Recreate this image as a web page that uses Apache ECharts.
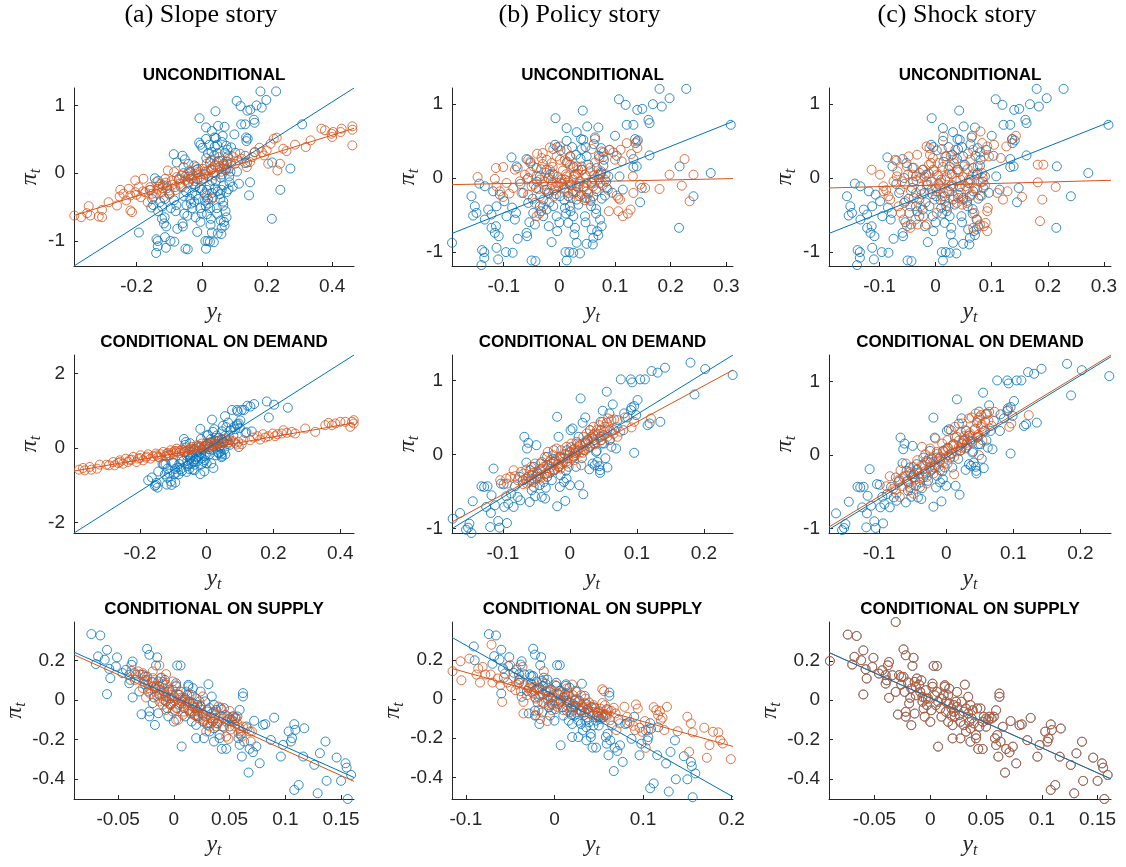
<!DOCTYPE html>
<html>
<head>
<meta charset="utf-8">
<title>Slope, policy and shock stories</title>
<script src="https://cdn.jsdelivr.net/npm/echarts@6/dist/echarts.min.js"></script>
<style>
  html, body { margin: 0; padding: 0; background: #fff; }
  #chart { width: 1126px; height: 867px; }
</style>
</head>
<body>
<div id="chart"></div>
<script>
// column and panel titles
const columnTitles = ['(a) Slope story', '(b) Policy story', '(c) Shock story'];
const rowTitles = ['UNCONDITIONAL', 'CONDITIONAL ON DEMAND', 'CONDITIONAL ON SUPPLY'];

// blue = data, the same in all three columns of a row
const blueUncond = [[0.228,1.205],[0.180,1.205],[0.198,1.079],[0.107,1.065],[0.119,0.989],[0.168,0.998],[0.184,0.966],[0.140,0.921],[0.149,0.935],[0.042,0.912],[0.160,0.787],[0.162,0.742],[-0.007,0.809],[0.121,0.719],[0.133,0.719],[0.308,0.719],[0.013,0.674],[0.070,0.683],[0.050,0.697],[0.100,0.571],[0.031,0.620],[0.039,0.526],[0.043,0.517],[0.064,0.548],[0.136,0.526],[0.137,0.472],[0.141,0.508],[0.013,0.503],[0.023,0.418],[0.047,0.418],[0.040,0.391],[0.062,0.458],[0.075,0.404],[0.079,0.346],[-0.004,0.418],[0.019,0.292],[0.030,0.315],[0.162,0.306],[0.133,0.256],[0.080,0.247],[0.049,0.292],[-0.086,0.279],[-0.059,0.256],[-0.077,0.157],[-0.052,0.202],[-0.041,0.135],[0.108,0.022],[0.133,0.148],[0.139,0.157],[0.216,0.157],[0.272,0.067],[0.241,-0.247],[0.145,-0.328],[0.215,-0.674],[0.114,-0.157],[0.148,-0.135],[0.085,-0.135],[0.082,-0.238],[0.067,-0.180],[0.075,0.067],[0.058,-0.067],[0.061,-0.247],[0.049,-0.270],[0.057,-0.382],[0.046,-0.517],[0.066,-0.481],[0.073,-0.562],[0.076,-0.652],[0.068,-0.719],[0.070,-0.773],[0.058,-0.697],[0.061,-0.809],[0.049,-0.890],[0.060,-0.899],[0.031,-0.876],[0.028,-0.674],[0.027,-0.764],[0.016,-0.607],[0.025,-0.517],[0.011,-1.002],[0.018,-1.002],[0.025,-1.011],[0.037,-1.020],[0.013,-1.115],[-0.014,-0.867],[-0.004,-0.719],[-0.019,-0.652],[-0.029,-0.517],[-0.011,-0.382],[-0.035,-0.382],[-0.054,-0.598],[-0.059,-0.742],[-0.058,-0.787],[-0.050,-1.115],[-0.043,-1.124],[-0.084,-1.011],[-0.075,-0.822],[-0.096,-1.002],[-0.110,-1.101],[-0.139,-0.975],[-0.135,-1.002],[-0.135,-1.079],[-0.140,-1.178],[-0.193,-0.876],[-0.113,-0.944],[-0.122,-0.674],[-0.116,-0.742],[-0.109,-0.787],[-0.114,-0.652],[-0.134,-0.562],[-0.155,-0.508],[-0.149,-0.472],[-0.152,-0.382],[-0.158,-0.247],[-0.144,-0.076],[-0.122,-0.494],[-0.128,-0.427],[-0.113,-0.382],[-0.095,-0.517],[-0.078,-0.472],[-0.080,-0.562],[-0.099,-0.315],[-0.119,-0.180],[-0.107,-0.225],[-0.134,-0.112],[-0.065,-0.202],[-0.056,-0.337],[-0.047,-0.472],[-0.044,-0.629],[-0.023,-0.427],[-0.042,-0.135],[-0.029,-0.292],[-0.020,-0.202],[0.001,-0.247],[0.010,-0.404],[0.019,-0.382],[0.012,-0.481],[-0.005,-0.517],[-0.017,0.045],[-0.023,0.112],[-0.008,0.449],[0.002,0.373],[0.010,-0.022],[0.031,-0.112],[0.040,0.112],[0.025,0.157],[0.067,0.135],[0.079,0.166],[0.073,0.045],[0.088,0.022],[0.040,-0.225],[0.031,-0.292],[0.016,-0.247],[-0.014,-0.090],[-0.035,0.022],[-0.056,0.000],
  [-0.048,-0.28],[-0.040,-0.05],[-0.033,-0.45],[-0.026,-0.16],[-0.018,-0.33],[-0.012,0.06],[-0.006,-0.22],[0.000,-0.60],[0.005,-0.08],[0.009,-0.30],[0.014,0.22],[0.020,-0.45],[0.024,-0.18],[0.029,0.05],[0.034,-0.36],[0.038,0.26],[0.043,-0.12],[0.047,-0.60],[0.052,0.18],[0.056,-0.31],[0.062,-0.02],[0.066,-0.42],[0.071,0.30],[0.076,-0.28],[0.084,-0.05],[0.090,0.38],[0.095,-0.20],[0.103,0.30],[-0.070,-0.08],[-0.085,-0.40]];

const blueDemand = [[-0.175,-0.869],[-0.164,-0.792],[-0.155,-1.018],[-0.150,-0.937],[-0.152,-0.991],[-0.147,-1.063],[-0.145,-0.633],[-0.132,-0.430],[-0.128,-0.439],[-0.123,-0.430],[-0.125,-0.710],[-0.118,-0.792],[-0.119,-0.982],[-0.114,-0.190],[-0.117,-0.552],[-0.112,-0.688],[-0.107,-0.900],[-0.105,-0.991],[-0.103,-0.394],[-0.099,-0.403],[-0.098,-0.710],[-0.094,-0.928],[-0.095,-0.566],[-0.092,-0.665],[-0.088,-0.529],[-0.084,-0.710],[-0.082,-0.430],[-0.078,-0.575],[-0.075,-0.303],[-0.074,-0.620],[-0.070,-0.348],[-0.068,0.240],[-0.065,-0.109],[-0.064,0.081],[-0.062,0.158],[-0.060,-0.643],[-0.057,-0.484],[-0.059,-0.213],[-0.054,-0.439],[-0.052,-0.566],[-0.050,0.127],[-0.048,-0.258],[-0.045,-0.416],[-0.042,-0.575],[-0.039,-0.371],[-0.037,-0.597],[-0.034,-0.303],[-0.029,-0.077],[-0.027,-0.348],[-0.023,-0.213],[-0.019,-0.701],[-0.019,0.511],[-0.017,0.240],[-0.015,-0.439],[-0.014,-0.281],[-0.009,-0.371],[-0.007,-0.629],[-0.005,-0.326],[-0.002,-0.167],[0.000,-0.416],[0.001,0.330],[0.004,0.353],[0.006,-0.032],[0.009,-0.167],[0.014,-0.416],[0.016,0.760],[0.019,0.430],[0.020,-0.538],[0.023,0.502],[0.026,0.195],[0.030,0.330],[0.034,-0.122],[0.037,-0.145],[0.041,-0.100],[0.044,-0.158],[0.045,-0.213],[0.045,-0.249],[0.049,0.593],[0.055,0.851],[0.059,0.557],[0.056,-0.176],[0.064,0.679],[0.066,0.330],[0.062,0.104],[0.051,0.149],[0.069,0.081],[0.076,1.018],[0.080,0.330],[0.086,0.502],[0.091,1.018],[0.093,0.977],[0.092,0.638],[0.096,0.656],[0.096,0.023],[0.101,0.738],[0.105,1.018],[0.112,1.018],[0.116,0.398],[0.119,0.421],[0.122,1.131],[0.131,1.109],[0.135,0.443],[0.142,1.176],[0.180,1.244],[0.186,0.814],[0.202,1.158],[0.243,1.077],[0.030,0.104],[0.036,0.195],[0.046,0.443],[0.071,0.466],[0.081,0.557],[0.091,0.602],[0.099,0.534],[0.011,0.149],[-0.004,0.059],[-0.014,-0.032],[-0.024,0.059],[-0.034,-0.032],[-0.044,-0.122],[-0.054,-0.167],[0.021,0.059],[0.039,0.036],[0.046,0.240],[0.056,0.330],
  [-0.058,-0.35],[-0.050,-0.30],[-0.043,-0.20],[-0.036,-0.45],[-0.030,-0.25],[-0.024,-0.10],[-0.017,-0.17],[-0.011,-0.05],[-0.006,-0.22],[0.002,0.10],[0.008,0.02],[0.013,0.24],[0.018,-0.05],[0.024,0.16],[0.029,-0.20],[0.035,0.27],[0.040,0.05],[0.048,0.15],[0.053,-0.05],[0.060,0.20]];

const blueSupply = [[-0.091,0.270],[-0.090,0.199],[-0.074,0.333],[-0.066,0.326],[-0.070,0.181],[-0.068,0.220],[-0.062,0.203],[-0.060,0.253],[-0.058,0.157],[-0.057,0.110],[-0.060,0.029],[-0.051,0.215],[-0.052,0.169],[-0.046,0.135],[-0.043,0.152],[-0.040,0.127],[-0.039,0.101],[-0.040,0.084],[-0.038,0.177],[-0.037,0.194],[-0.037,0.012],[-0.031,0.042],[-0.031,0.397],[-0.029,-0.073],[-0.034,0.127],[-0.028,0.127],[-0.026,0.118],[-0.024,0.118],[-0.024,0.258],[-0.022,0.228],[-0.023,0.042],[-0.022,-0.059],[-0.022,-0.084],[-0.019,-0.017],[-0.018,0.012],[-0.017,-0.127],[-0.016,0.174],[-0.015,0.215],[-0.014,0.093],[-0.014,-0.068],[-0.013,0.068],[-0.012,0.110],[-0.010,0.079],[-0.009,0.042],[-0.008,0.101],[-0.007,0.017],[-0.007,-0.008],[-0.006,-0.042],[-0.005,-0.084],[-0.004,0.051],[-0.003,-0.025],[-0.002,0.008],[0.000,-0.110],[0.001,-0.051],[0.002,0.084],[0.002,0.068],[0.003,0.174],[0.006,0.174],[0.004,0.025],[0.005,-0.025],[0.006,0.042],[0.007,-0.236],[0.007,-0.008],[0.009,-0.042],[0.010,0.008],[0.010,-0.084],[0.012,0.025],[0.013,0.076],[0.013,0.068],[0.014,-0.059],[0.016,-0.110],[0.016,0.025],[0.017,0.059],[0.017,-0.017],[0.019,-0.042],[0.019,-0.079],[0.020,-0.127],[0.020,-0.194],[0.021,-0.059],[0.022,-0.084],[0.023,-0.008],[0.024,0.042],[0.024,-0.034],[0.026,-0.076],[0.027,-0.110],[0.027,-0.194],[0.028,-0.008],[0.030,-0.059],[0.030,-0.127],[0.031,0.079],[0.032,-0.042],[0.032,-0.160],[0.034,-0.068],[0.034,0.017],[0.035,-0.110],[0.036,-0.211],[0.036,-0.144],[0.037,-0.093],[0.038,-0.051],[0.039,-0.118],[0.041,-0.177],[0.041,-0.194],[0.042,-0.042],[0.043,-0.248],[0.044,-0.135],[0.045,-0.042],[0.047,-0.248],[0.048,-0.084],[0.050,-0.093],[0.052,-0.101],[0.055,-0.093],[0.057,-0.084],[0.058,-0.194],[0.059,-0.228],[0.059,-0.051],[0.060,-0.177],[0.061,-0.287],[0.062,0.034],[0.062,0.017],[0.063,-0.211],[0.065,-0.135],[0.067,-0.368],[0.068,-0.248],[0.071,-0.265],[0.072,-0.106],[0.074,-0.236],[0.077,-0.321],[0.080,-0.127],[0.082,-0.123],[0.090,-0.090],[0.087,-0.203],[0.096,-0.287],[0.098,-0.228],[0.103,-0.160],[0.105,-0.211],[0.106,-0.194],[0.108,-0.123],[0.109,-0.152],[0.108,-0.456],[0.112,-0.431],[0.117,-0.144],[0.116,-0.287],[0.126,-0.329],[0.129,-0.473],[0.131,-0.270],[0.136,-0.211],[0.137,-0.410],[0.146,-0.292],[0.150,-0.410],[0.154,-0.321],[0.155,-0.343],[0.156,-0.502],[0.159,-0.380],[-0.026,0.079],[-0.020,0.090],[-0.017,0.059],[-0.013,0.025],[-0.004,0.008],[0.014,-0.008],[0.021,-0.025],[0.036,-0.025],[0.047,-0.110],[0.050,-0.135],[0.053,-0.084]];

// orange = model, one per story
const orangeUncondSlope = [[-0.391,-0.626],[-0.370,-0.650],[-0.352,-0.591],[-0.347,-0.488],[-0.342,-0.626],[-0.316,-0.640],[-0.306,-0.650],[-0.306,-0.542],[-0.286,-0.429],[-0.260,-0.478],[-0.252,-0.345],[-0.250,-0.246],[-0.240,-0.305],[-0.232,-0.404],[-0.224,-0.232],[-0.219,-0.330],[-0.219,-0.552],[-0.214,-0.576],[-0.204,-0.108],[-0.204,-0.281],[-0.194,-0.207],[-0.187,-0.355],[-0.179,-0.084],[-0.173,-0.281],[-0.166,-0.429],[-0.158,-0.207],[-0.153,-0.305],[-0.148,-0.355],[-0.140,-0.133],[-0.136,-0.232],[-0.128,-0.158],[-0.122,-0.281],[-0.117,-0.355],[-0.112,-0.084],[-0.107,-0.182],[-0.104,0.039],[-0.099,-0.256],[-0.092,-0.108],[-0.085,0.015],[-0.082,-0.207],[-0.077,-0.059],[-0.068,-0.158],[-0.061,-0.034],[-0.056,0.089],[-0.051,-0.108],[-0.044,-0.010],[-0.038,0.039],[-0.034,-0.084],[-0.026,-0.034],[-0.017,0.089],[-0.013,0.015],[-0.005,-0.059],[0.003,0.064],[0.007,-0.010],[0.015,0.138],[0.020,0.039],[0.028,0.187],[0.034,0.089],[0.041,-0.034],[0.046,0.163],[0.054,0.236],[0.056,0.099],[0.064,0.187],[0.068,0.064],[0.077,0.138],[0.082,0.212],[0.031,-0.379],[0.015,-0.330],[0.117,0.286],[0.122,0.212],[0.138,0.089],[0.148,0.163],[0.155,0.236],[0.163,0.310],[0.177,0.374],[0.184,0.310],[0.191,0.261],[0.199,0.335],[0.204,0.138],[0.211,0.433],[0.221,0.507],[0.230,0.522],[0.232,0.039],[0.240,0.138],[0.250,0.360],[0.260,0.325],[0.286,0.419],[0.319,0.384],[0.334,0.483],[0.367,0.655],[0.378,0.631],[0.398,0.581],[0.400,0.532],[0.403,0.606],[0.426,0.606],[0.429,0.655],[0.462,0.690],[0.462,0.640],[0.462,0.409],[0.097,0.236],[0.102,0.138],[0.112,0.187],[-0.130,-0.200],[-0.110,-0.140],[-0.090,-0.170],[-0.070,-0.100],[-0.050,-0.050],[-0.030,-0.080],[-0.010,-0.020],[0.010,0.020],[0.030,0.050],[0.050,0.080],[0.070,0.110],[0.090,0.150],[-0.160,-0.250],[-0.180,-0.270],[-0.200,-0.320],[-0.140,-0.300],[-0.120,-0.220],[-0.100,-0.300],[-0.080,-0.250],[-0.060,-0.200],[-0.040,-0.150],[-0.020,-0.120],[0.000,-0.100],[0.020,-0.050],[0.040,0.000],[0.060,0.020],[0.080,0.050]];

const orangeUncondPolicy = [[-0.147,0.013],[-0.114,0.135],[-0.101,0.148],[-0.116,-0.013],[-0.113,-0.112],[-0.107,-0.180],[-0.101,-0.256],[-0.090,-0.211],[-0.080,0.112],[-0.075,0.135],[-0.071,-0.045],[-0.062,0.045],[-0.056,0.247],[-0.052,0.225],[-0.047,0.157],[-0.044,-0.337],[-0.041,-0.517],[-0.036,-0.481],[-0.040,0.328],[-0.032,0.270],[-0.030,0.337],[-0.023,0.247],[-0.017,0.413],[-0.011,0.391],[-0.014,0.202],[-0.005,0.292],[0.001,0.247],[0.013,0.202],[0.020,0.292],[0.025,0.135],[0.034,0.112],[0.040,0.157],[0.046,0.045],[0.055,0.090],[0.072,0.270],[0.076,0.360],[0.079,0.283],[0.090,0.382],[0.097,0.346],[0.100,0.247],[0.110,0.382],[0.121,0.472],[0.129,0.324],[0.139,0.494],[0.140,0.404],[0.132,0.022],[0.112,0.225],[0.133,-0.202],[0.128,-0.427],[0.123,-0.481],[0.114,-0.517],[0.106,-0.449],[0.103,-0.238],[0.106,-0.270],[0.109,-0.292],[0.089,-0.449],[0.055,-0.292],[0.046,-0.270],[0.037,-0.247],[0.025,-0.211],[0.016,-0.202],[0.010,-0.135],[-0.002,-0.112],[-0.009,-0.166],[-0.023,-0.157],[-0.029,-0.090],[-0.035,-0.022],[-0.020,0.000],[-0.010,0.045],[0.004,-0.022],[0.013,0.022],[0.025,-0.022],[0.037,-0.045],[0.049,-0.067],[0.061,-0.112],[0.073,-0.067],[0.082,-0.022],[0.070,0.045],[0.049,-0.180],[0.034,-0.135],[0.019,-0.090],[-0.005,-0.067],[-0.017,0.112],[-0.050,-0.112],[-0.056,-0.225],[-0.068,-0.202],[-0.083,-0.135],[-0.095,-0.067],[0.198,0.045],[0.180,-0.148],[0.220,-0.103],[0.225,0.256],[0.234,-0.315],[0.241,0.045],[0.154,-0.135],[0.145,-0.090],[0.001,0.427],[0.064,0.526],[0.058,0.391],[0.031,0.157],[0.013,0.382],[-0.035,-0.247],[-0.029,-0.382],
  [-0.058,-0.02],[-0.052,0.08],[-0.046,-0.09],[-0.041,0.03],[-0.037,-0.15],[-0.033,0.12],[-0.027,-0.05],[-0.024,0.07],[-0.019,-0.21],[-0.015,-0.03],[-0.012,0.15],[-0.007,-0.11],[-0.003,0.02],[0.002,-0.06],[0.006,0.10],[0.009,-0.16],[0.012,0.05],[0.016,-0.04],[0.019,0.18],[0.022,-0.10],[0.026,0.03],[0.029,-0.19],[0.033,0.06],[0.036,-0.08],[0.041,0.11],[0.044,-0.13],[0.048,0.01],[0.052,-0.21],[0.055,0.14],[0.059,-0.05],[0.063,0.04],[0.066,-0.15],[0.071,-0.02],[0.075,0.09],[0.078,-0.10],[0.083,0.05],[0.087,-0.16],[0.064,0.21],[0.010,0.24],[-0.030,0.19],[0.045,-0.30],[0.020,-0.27],[-0.010,-0.25]];

const orangeUncondShock = [[-0.114,0.112],[-0.099,0.045],[-0.093,-0.112],[-0.088,-0.166],[-0.084,-0.247],[-0.075,-0.045],[-0.072,0.247],[-0.070,0.234],[-0.068,0.090],[-0.063,-0.157],[-0.062,-0.472],[-0.057,-0.562],[-0.051,-0.652],[-0.045,-0.674],[-0.036,-0.562],[-0.045,-0.382],[-0.054,-0.315],[-0.051,0.157],[-0.048,0.292],[-0.041,0.045],[-0.033,0.315],[-0.035,-0.202],[-0.032,-0.629],[-0.022,-0.517],[-0.016,-0.629],[-0.016,0.427],[-0.011,0.404],[-0.010,0.315],[-0.008,0.202],[-0.004,0.112],[-0.002,-0.292],[0.002,-0.472],[0.005,0.202],[0.011,0.391],[0.014,0.562],[0.017,0.292],[0.020,0.022],[0.023,0.112],[0.026,-0.112],[0.032,-0.247],[0.032,0.247],[0.035,0.382],[0.038,0.112],[0.044,-0.022],[0.049,-0.292],[0.050,0.157],[0.056,-0.157],[0.059,-0.022],[0.062,0.247],[0.065,0.571],[0.067,0.382],[0.069,-0.472],[0.074,-0.562],[0.067,-0.674],[0.073,-0.697],[0.079,-0.629],[0.086,-0.652],[0.092,-0.719],[0.089,-0.607],[0.092,-0.449],[0.093,-0.404],[0.074,-0.157],[0.080,-0.058],[0.083,0.067],[0.080,0.629],[0.083,0.472],[0.086,0.292],[0.092,0.427],[0.095,0.292],[0.104,0.449],[0.116,0.270],[0.126,0.427],[0.128,-0.180],[0.120,-0.292],[0.110,-0.202],[0.137,0.526],[0.143,0.571],[0.154,-0.256],[0.182,0.180],[0.182,-0.058],[0.186,-0.584],[0.190,-0.292],[0.192,0.180],[0.214,-0.121],[-0.022,0.112],[-0.016,-0.045],[-0.027,0.000],[0.002,0.045],[0.008,-0.112],[0.014,-0.202],[0.017,-0.315],[0.023,-0.382],[0.038,-0.337],[0.047,-0.360],[0.056,-0.337],[0.065,-0.225],[-0.027,-0.382],[-0.039,-0.270],[-0.066,-0.382],[-0.081,-0.292],[-0.093,-0.180],[-0.069,0.022],[-0.007,-0.157],[0.002,-0.180],[-0.060,-0.045],
  [-0.055,-0.08],[-0.049,0.05],[-0.044,-0.17],[-0.039,0.14],[-0.034,-0.03],[-0.029,0.07],[-0.025,-0.22],[-0.020,0.02],[-0.016,-0.10],[-0.012,0.18],[-0.008,-0.05],[-0.003,0.09],[0.001,-0.14],[0.005,0.03],[0.009,-0.06],[0.013,0.15],[0.017,-0.02],[0.021,-0.18],[0.025,0.06],[0.029,-0.09],[0.033,0.20],[0.037,-0.04],[0.041,0.08],[0.045,-0.20],[0.049,0.01],[0.053,-0.11],[0.057,0.12],[0.061,-0.07],[0.066,0.05],[0.070,-0.14],[0.075,0.16],[0.079,-0.24],[0.084,0.00],[0.088,-0.10],[0.027,0.30],[-0.005,0.27],[0.058,0.33],[0.040,-0.27],[0.012,-0.25]];

const orangeDemandSlope = [[-0.398,-0.619],[-0.382,-0.583],[-0.370,-0.538],[-0.365,-0.601],[-0.350,-0.511],[-0.345,-0.583],[-0.328,-0.556],[-0.320,-0.448],[-0.292,-0.466],[-0.280,-0.377],[-0.275,-0.466],[-0.265,-0.404],[-0.260,-0.332],[-0.250,-0.422],[-0.242,-0.287],[-0.235,-0.377],[-0.225,-0.314],[-0.220,-0.242],[-0.210,-0.377],[-0.205,-0.287],[-0.198,-0.197],[-0.190,-0.332],[-0.182,-0.260],[-0.175,-0.170],[-0.168,-0.287],[-0.160,-0.224],[-0.152,-0.152],[-0.145,-0.242],[-0.138,-0.170],[-0.130,-0.108],[-0.122,-0.224],[-0.115,-0.135],[-0.108,-0.063],[-0.100,-0.170],[-0.095,-0.081],[-0.090,-0.018],[-0.082,-0.135],[-0.075,-0.045],[-0.068,-0.108],[-0.060,0.009],[-0.052,-0.063],[-0.045,0.027],[-0.038,-0.045],[-0.030,0.072],[-0.022,0.009],[-0.015,0.117],[-0.008,0.045],[0.000,0.135],[0.008,0.072],[0.015,0.161],[0.022,0.099],[0.030,0.188],[0.038,0.117],[0.045,0.224],[0.052,0.161],[0.060,0.251],[0.070,0.206],[0.085,0.135],[0.090,0.090],[0.095,0.161],[0.105,0.099],[0.110,0.206],[0.130,0.206],[0.140,0.278],[0.152,0.314],[0.160,0.224],[0.168,0.368],[0.175,0.278],[0.185,0.314],[0.198,0.386],[0.205,0.314],[0.212,0.368],[0.225,0.386],[0.230,0.475],[0.240,0.404],[0.255,0.430],[0.265,0.386],[0.295,0.520],[0.325,0.430],[0.355,0.610],[0.365,0.673],[0.375,0.610],[0.385,0.655],[0.400,0.700],[0.415,0.700],[0.430,0.565],[0.435,0.700],[0.440,0.744],[0.440,0.655],[-0.150,-0.200],[-0.140,-0.260],[-0.120,-0.150],[-0.110,-0.200],[-0.100,-0.120],[-0.090,-0.100],[-0.080,-0.080],[-0.070,-0.060],[-0.060,-0.080],[-0.050,-0.020],[-0.040,-0.030],[-0.030,0.020],[-0.020,0.040],[-0.010,0.000],[0.000,0.050],[0.010,0.060],[0.020,0.050],[0.030,0.100],[0.050,0.120],[0.065,0.150],[0.080,0.180],[-0.180,-0.230],[-0.200,-0.270],[-0.230,-0.320],[-0.260,-0.380],[-0.300,-0.450]];

const orangeDemandPolicy = [[-0.095,-0.326],[-0.089,-0.303],[-0.082,-0.294],[-0.078,-0.348],[-0.073,-0.235],[-0.069,-0.258],[-0.065,-0.204],[-0.062,-0.303],[-0.058,-0.167],[-0.055,-0.249],[-0.052,-0.122],[-0.049,-0.326],[-0.045,-0.213],[-0.042,-0.100],[-0.039,-0.167],[-0.037,-0.032],[-0.035,-0.258],[-0.033,0.036],[-0.030,-0.100],[-0.028,-0.167],[-0.025,-0.009],[-0.023,-0.077],[-0.020,0.081],[-0.018,-0.131],[-0.015,-0.032],[-0.013,0.059],[-0.010,-0.100],[-0.008,0.005],[-0.005,0.104],[-0.003,-0.054],[0.000,0.036],[0.002,0.149],[0.005,-0.023],[0.007,0.081],[0.010,0.172],[0.012,0.050],[0.015,0.127],[0.017,-0.145],[0.020,0.240],[0.022,0.149],[0.025,0.285],[0.027,0.195],[0.030,0.330],[0.032,0.240],[0.035,0.376],[0.037,0.285],[0.040,0.330],[0.044,0.398],[0.046,0.330],[0.049,0.443],[0.052,0.376],[0.055,0.430],[0.057,0.489],[0.059,0.195],[0.062,0.466],[0.066,0.475],[0.071,0.240],[0.082,0.502],[0.092,0.367],[0.096,0.443],[0.121,0.489],[0.019,0.023],[0.026,0.081],[0.036,0.149],[0.046,0.195],[0.051,0.262],[0.006,-0.077],[-0.004,-0.122],[-0.014,-0.190],[-0.024,-0.213],[-0.034,-0.303],[-0.044,-0.326],[-0.054,-0.371],[-0.064,-0.394],[-0.084,-0.213],[-0.104,-0.348],[-0.094,-0.394],
  [-0.070,-0.40],[-0.066,-0.33],[-0.061,-0.37],[-0.057,-0.28],[-0.053,-0.34],[-0.049,-0.23],[-0.045,-0.30],[-0.041,-0.19],[-0.038,-0.27],[-0.034,-0.14],[-0.031,-0.22],[-0.027,-0.12],[-0.024,-0.20],[-0.021,-0.08],[-0.017,-0.16],[-0.014,-0.05],[-0.011,-0.13],[-0.007,0.00],[-0.004,-0.09],[0.000,0.03],[0.003,-0.05],[0.006,0.07],[0.009,-0.01],[0.013,0.10],[0.016,0.03],[0.019,0.15],[0.023,0.06],[0.027,0.19],[0.030,0.10],[0.034,0.22],[0.038,0.14],[0.042,0.26],[0.047,0.19],[0.051,0.31],[0.056,0.24],[0.060,0.33],[0.065,0.28],[0.070,0.37],[0.075,0.31]];

const orangeDemandShock = [[-0.089,-0.423],[-0.084,-0.286],[-0.079,-0.455],[-0.074,-0.523],[-0.071,-0.364],[-0.068,-0.205],[-0.064,-0.295],[-0.060,-0.114],[-0.056,-0.386],[-0.054,-0.227],[-0.053,-0.477],[-0.049,-0.159],[-0.046,-0.332],[-0.043,-0.068],[-0.040,-0.250],[-0.036,0.114],[-0.034,-0.136],[-0.031,0.014],[-0.029,-0.295],[-0.026,-0.045],[-0.024,0.091],[-0.021,-0.195],[-0.019,-0.091],[-0.016,0.227],[-0.014,0.045],[-0.011,-0.159],[-0.009,-0.023],[-0.006,0.159],[-0.004,-0.091],[-0.001,0.068],[0.002,0.205],[0.004,0.000],[0.007,0.341],[0.009,0.136],[0.012,-0.259],[0.013,0.386],[0.016,0.250],[0.019,0.114],[0.022,0.318],[0.024,0.432],[0.027,0.205],[0.029,0.341],[0.032,0.259],[0.034,0.500],[0.038,0.514],[0.042,0.341],[0.044,0.568],[0.047,0.477],[0.049,0.514],[0.052,0.545],[0.052,0.386],[0.054,0.205],[0.058,0.455],[0.061,0.568],[0.064,0.591],[0.072,0.591],[0.049,0.000],[0.047,0.250],[0.092,0.614],[0.094,0.386],[0.097,0.432],[0.123,0.545],[0.032,0.136],[0.022,0.068],[0.012,-0.023],[0.002,-0.114],[-0.009,-0.205],[-0.019,-0.250],[-0.029,-0.386],[-0.039,-0.432],[-0.049,-0.523],[-0.069,-0.568],[0.039,0.182],[0.029,0.091],
  [-0.075,-0.47],[-0.070,-0.33],[-0.065,-0.42],[-0.061,-0.28],[-0.057,-0.36],[-0.052,-0.25],[-0.048,-0.31],[-0.044,-0.19],[-0.040,-0.29],[-0.036,-0.13],[-0.032,-0.22],[-0.028,-0.09],[-0.025,-0.17],[-0.021,-0.04],[-0.017,-0.14],[-0.013,0.02],[-0.009,-0.08],[-0.005,0.06],[-0.001,-0.03],[0.003,0.10],[0.007,0.02],[0.011,0.15],[0.015,0.05],[0.019,0.20],[0.023,0.10],[0.027,0.26],[0.031,0.17],[0.035,0.30],[0.039,0.22],[0.043,0.36],[0.048,0.28],[0.053,0.42],[0.058,0.33],[0.063,0.47],[0.068,0.40]];

const orangeSupplySlope = [[-0.038,0.147],[-0.035,0.135],[-0.032,0.144],[-0.030,0.127],[-0.028,0.135],[-0.026,0.101],[-0.025,0.012],[-0.027,0.093],[-0.023,0.076],[-0.022,0.059],[-0.019,0.090],[-0.019,0.110],[-0.017,0.042],[-0.016,0.068],[-0.013,0.174],[-0.013,0.029],[-0.011,0.113],[-0.010,0.090],[-0.009,0.059],[-0.008,0.025],[-0.007,-0.008],[-0.007,0.076],[-0.005,0.042],[-0.004,0.008],[-0.003,-0.025],[-0.002,0.025],[-0.001,0.051],[0.001,-0.005],[0.002,0.073],[0.002,-0.042],[0.004,-0.101],[0.005,0.025],[0.006,-0.017],[0.008,0.008],[0.009,-0.039],[0.010,0.000],[0.011,-0.025],[0.013,-0.051],[0.014,-0.012],[0.016,-0.059],[0.017,-0.034],[0.019,-0.076],[0.020,-0.051],[0.022,-0.093],[0.023,-0.042],[0.025,-0.068],[0.026,-0.110],[0.026,0.017],[0.028,-0.084],[0.029,-0.160],[0.030,-0.118],[0.032,-0.135],[0.033,-0.093],[0.035,-0.110],[0.037,-0.079],[0.038,-0.135],[0.040,-0.034],[0.041,-0.110],[0.043,-0.051],[0.044,-0.093],[0.046,-0.076],[0.047,-0.186],[0.049,-0.198],[0.050,-0.056],[0.052,-0.110],[0.053,-0.084],[0.055,-0.135],[0.056,-0.093],[0.058,-0.169],[0.059,-0.144],[0.061,-0.186],[0.062,-0.135],[0.066,-0.144],[0.068,-0.160],[0.069,-0.211],[0.070,-0.160],[-0.013,-0.008],[-0.007,-0.051],[-0.010,-0.025],[-0.001,-0.059],[0.008,-0.076],[0.002,-0.101],[0.014,0.025],[0.020,0.008],[0.011,0.042],[-0.001,0.093],[-0.035,0.101],[-0.007,0.130],[-0.019,0.144],
  [-0.028,0.06],[-0.024,0.10],[-0.021,0.03],[-0.018,0.07],[-0.015,0.02],[-0.012,0.05],[-0.009,0.00],[-0.006,0.04],[-0.003,-0.02],[0.000,0.02],[0.003,-0.04],[0.006,0.01],[0.009,-0.06],[0.012,-0.01],[0.015,-0.07],[0.018,-0.02],[0.021,-0.08],[0.024,-0.03],[0.027,-0.10],[0.030,-0.05],[0.033,-0.12],[0.036,-0.06],[0.039,-0.12],[0.042,-0.08],[0.045,-0.14],[0.048,-0.10],[0.051,-0.15],[0.054,-0.11],[0.057,-0.12],[0.060,-0.16]];

const orangeSupplyPolicy = [[-0.115,0.143],[-0.106,0.194],[-0.105,0.097],[-0.096,0.208],[-0.088,0.126],[-0.086,0.157],[-0.084,0.085],[-0.081,0.165],[-0.078,0.126],[-0.072,0.126],[-0.071,0.279],[-0.070,0.085],[-0.064,0.106],[-0.061,0.072],[-0.059,-0.014],[-0.056,0.131],[-0.053,0.085],[-0.050,0.174],[-0.049,0.063],[-0.046,0.114],[-0.044,0.046],[-0.042,0.075],[-0.040,0.097],[-0.038,0.041],[-0.036,0.165],[-0.035,-0.014],[-0.034,0.072],[-0.031,0.020],[-0.029,0.055],[-0.027,0.080],[-0.026,0.037],[-0.024,0.029],[-0.023,0.063],[-0.021,0.003],[-0.020,0.055],[-0.018,-0.056],[-0.016,0.020],[-0.014,-0.014],[-0.013,0.085],[-0.012,0.143],[-0.010,0.037],[-0.008,0.003],[-0.006,-0.031],[-0.005,0.046],[-0.003,-0.056],[-0.002,0.020],[0.000,-0.010],[0.001,0.072],[0.003,-0.039],[0.005,0.020],[0.007,-0.014],[0.009,0.037],[0.010,-0.056],[0.011,0.012],[0.014,-0.031],[0.014,0.055],[0.016,-0.005],[0.018,-0.065],[0.020,0.075],[0.021,0.020],[0.023,-0.039],[0.025,0.037],[0.026,-0.014],[0.029,-0.056],[0.030,0.020],[0.031,-0.031],[0.033,-0.082],[0.035,0.003],[0.037,-0.048],[0.039,-0.017],[0.040,-0.073],[0.042,-0.039],[0.044,-0.082],[0.046,-0.048],[0.048,-0.065],[0.050,-0.090],[0.052,-0.048],[0.054,0.051],[0.056,0.041],[0.054,-0.073],[0.057,-0.031],[0.059,-0.090],[0.061,-0.056],[0.063,-0.107],[0.067,-0.044],[0.069,-0.073],[0.070,-0.158],[0.074,-0.124],[0.079,-0.039],[0.082,-0.090],[0.085,-0.116],[0.089,-0.136],[0.091,-0.158],[0.092,-0.027],[0.094,-0.048],[0.096,-0.146],[0.099,-0.167],[0.102,-0.112],[0.103,-0.249],[0.106,-0.158],[0.112,-0.041],[0.115,-0.056],[0.117,-0.082],[0.119,-0.061],[0.120,-0.107],[0.122,-0.095],[0.124,-0.158],[0.127,-0.039],[0.139,-0.164],[0.150,-0.090],[0.154,-0.124],[0.156,-0.170],[0.152,-0.269],[0.169,-0.146],[0.172,-0.300],[0.179,-0.167],[0.185,-0.170],[0.187,-0.210],[0.190,-0.227],[0.175,-0.235],[0.199,-0.307],[-0.016,-0.102],[-0.021,-0.082],[-0.008,-0.112],[-0.035,-0.073],
  [-0.028,0.06],[-0.022,0.01],[-0.017,0.05],[-0.012,-0.02],[-0.007,0.04],[-0.002,-0.03],[0.004,0.03],[0.009,-0.04],[0.014,0.02],[0.019,-0.05],[0.024,0.00],[0.029,-0.06],[0.034,-0.02],[0.039,-0.07],[0.044,-0.03],[0.049,-0.07],[0.054,-0.02],[0.059,-0.08],[0.064,-0.06]];

// in the shock story the supply model reproduces the data
const orangeSupplyShock = blueSupply;

// fitted lines, read at the two ends of each x axis
const fitBlue = [
  [[-0.392,-1.370],[0.467,1.255]], [[-0.193,-0.750],[0.312,0.764]], [[-0.190,-0.750],[0.3125,0.764]],
  [[-0.397,-2.280],[0.441,2.490]], [[-0.176,-1.005],[0.2435,1.348]], [[-0.1745,-1.010],[0.2455,1.340]],
  [[-0.0896,0.2415],[0.1616,-0.393]], [[-0.1156,0.316],[0.2015,-0.500]], [[-0.0908,0.242],[0.162,-0.400]]
];
const fitOrange = [
  [[-0.392,-0.625],[0.467,0.660]], [[-0.193,-0.090],[0.312,-0.008]], [[-0.190,-0.135],[0.3125,-0.031]],
  [[-0.397,-0.620],[0.441,0.670]], [[-0.176,-0.914],[0.2435,1.145]], [[-0.1745,-0.977],[0.2455,1.364]],
  [[-0.0896,0.228],[0.1616,-0.413]], [[-0.1156,0.157],[0.2015,-0.242]], [[-0.0908,0.242],[0.162,-0.400]]
];

// axis limits and tick labels
const xLimits = [[-0.392,0.467],[-0.193,0.312],[-0.190,0.3125],[-0.397,0.441],[-0.176,0.2435],[-0.1745,0.2455],[-0.0896,0.1616],[-0.1156,0.2015],[-0.0908,0.162]];
const yLimits = [[-1.37,1.255],[-1.19,1.217],[-1.19,1.217],[-2.28,2.49],[-1.063,1.348],[-1.059,1.364],[-0.502,0.394],[-0.511,0.395],[-0.502,0.397]];
const xTicks = [[-0.2,0,0.2,0.4],[-0.1,0,0.1,0.2,0.3],[-0.1,0,0.1,0.2,0.3],[-0.2,0,0.2,0.4],[-0.1,0,0.1,0.2],[-0.1,0,0.1,0.2],[-0.05,0,0.05,0.1,0.15],[-0.1,0,0.1,0.2],[-0.05,0,0.05,0.1,0.15]];
const yTicks = [[-1,0,1],[-1,0,1],[-1,0,1],[-2,0,2],[-1,0,1],[-1,0,1],[-0.4,-0.2,0,0.2],[-0.4,-0.2,0,0.2],[-0.4,-0.2,0,0.2]];

const blueSets = [blueUncond, blueDemand, blueSupply];
const orangeSets = [orangeUncondSlope, orangeUncondPolicy, orangeUncondShock,
  orangeDemandSlope, orangeDemandPolicy, orangeDemandShock,
  orangeSupplySlope, orangeSupplyPolicy, orangeSupplyShock];

const BLUE = '#0072BD';
const ORANGE = '#D95319';
const AXIS = '#262626';

const colLeft = [74, 452, 829];
const colWidth = [280, 281, 282];
const rowTop = [88, 355, 622];
const rowHeight = [178, 178, 177];

const chart = echarts.init(document.getElementById('chart'));

const grids = [], xAxes = [], yAxes = [], series = [], texts = [];

const mathRich = {
  i: { fontFamily: 'Liberation Serif', fontStyle: 'italic', fontSize: 24, lineHeight: 28, verticalAlign: 'middle', color: AXIS },
  s: { fontFamily: 'Liberation Serif', fontStyle: 'italic', fontSize: 16, lineHeight: 16, verticalAlign: 'bottom', color: AXIS }
};

columnTitles.forEach(function (t, c) {
  texts.push({
    type: 'text', x: colLeft[c] + colWidth[c] / 2 - 13, y: 15,
    style: { text: t, textAlign: 'center', textVerticalAlign: 'middle', font: '26px "Liberation Serif"', fill: '#000' }
  });
});

for (let r = 0; r < 3; r++) {
  texts.push.apply(texts, colLeft.map(function (l, c) {
    return {
      type: 'text', x: l + colWidth[c] / 2, y: rowTop[r] - 13,
      style: { text: rowTitles[r], textAlign: 'center', textVerticalAlign: 'middle', font: 'bold 17px "Liberation Sans"', fill: '#000' }
    };
  }));
  for (let c = 0; c < 3; c++) {
    const i = r * 3 + c;
    grids.push({ left: colLeft[c], top: rowTop[r], width: colWidth[c], height: rowHeight[r], containLabel: false });
    xAxes.push({
      gridIndex: i, type: 'value', min: xLimits[i][0], max: xLimits[i][1],
      axisLine: { show: true, onZero: false, lineStyle: { color: AXIS, width: 1 } },
      axisTick: { show: true, inside: true, length: 4, customValues: xTicks[i], lineStyle: { color: AXIS } },
      axisLabel: { customValues: xTicks[i], fontSize: 19, color: AXIS, fontFamily: 'Liberation Sans', margin: 11 },
      splitLine: { show: false },
      name: '{i|y}{s|t}', nameLocation: 'middle', nameGap: 32,
      nameTextStyle: { rich: mathRich }
    });
    yAxes.push({
      gridIndex: i, type: 'value', min: yLimits[i][0], max: yLimits[i][1],
      axisLine: { show: true, onZero: false, lineStyle: { color: AXIS, width: 1 } },
      axisTick: { show: true, inside: true, length: 4, customValues: yTicks[i], lineStyle: { color: AXIS } },
      axisLabel: { customValues: yTicks[i], fontSize: 19, color: AXIS, fontFamily: 'Liberation Sans', margin: 9 },
      splitLine: { show: false },
      name: '{i|π}{s|t}', nameLocation: 'middle', nameGap: 30, nameRotate: 90,
      nameTextStyle: { rich: mathRich }
    });
    const common = { xAxisIndex: i, yAxisIndex: i, silent: true, animation: false };
    series.push(Object.assign({
      type: 'scatter', data: blueSets[r], symbol: 'circle', symbolSize: 9,
      itemStyle: { color: 'rgba(0,0,0,0)', borderColor: BLUE, borderWidth: 1 }
    }, common));
    series.push(Object.assign({
      type: 'scatter', data: orangeSets[i], symbol: 'circle', symbolSize: 9,
      itemStyle: { color: 'rgba(0,0,0,0)', borderColor: ORANGE, borderWidth: 1 }
    }, common));
    series.push(Object.assign({
      type: 'line', data: fitOrange[i], showSymbol: false, lineStyle: { color: ORANGE, width: 1 }
    }, common));
    series.push(Object.assign({
      type: 'line', data: fitBlue[i], showSymbol: false, lineStyle: { color: BLUE, width: 1 }
    }, common));
  }
}

chart.setOption({
  backgroundColor: '#fff',
  animation: false,
  grid: grids,
  xAxis: xAxes,
  yAxis: yAxes,
  series: series,
  graphic: { elements: texts }
});
</script>
</body>
</html>
